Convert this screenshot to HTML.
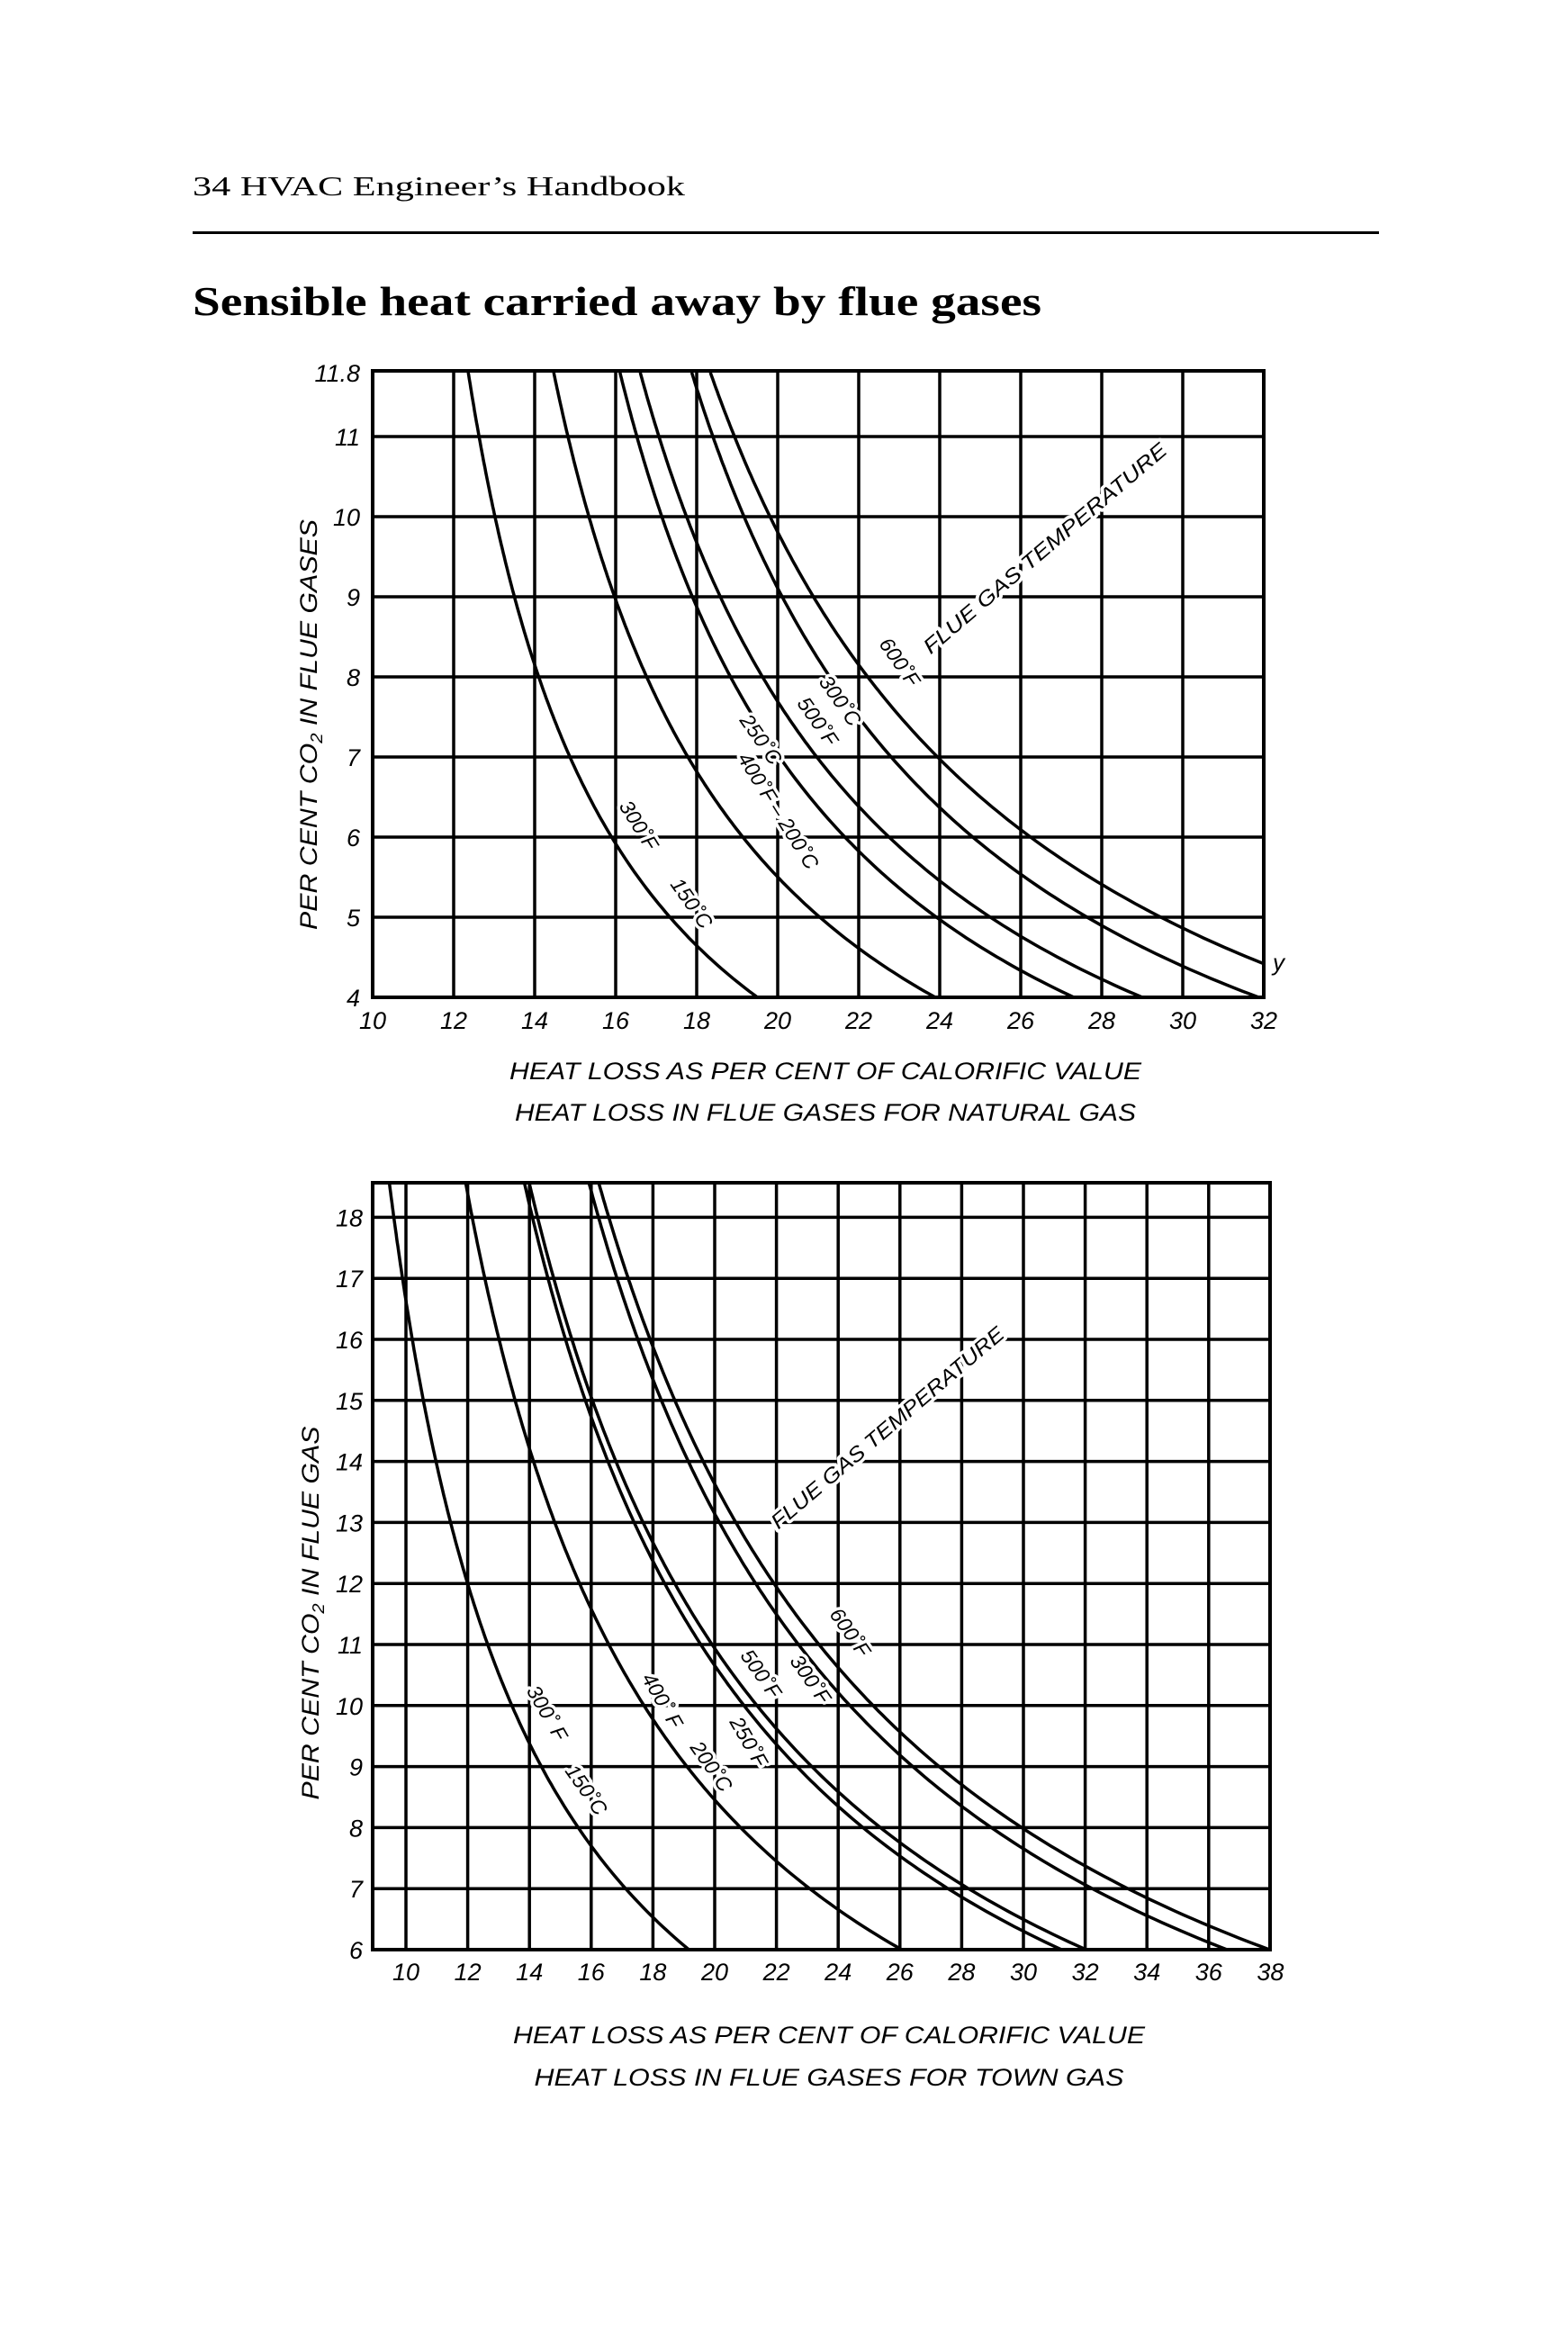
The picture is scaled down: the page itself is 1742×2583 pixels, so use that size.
<!DOCTYPE html>
<html><head><meta charset="utf-8"><style>
html,body{margin:0;padding:0;background:#fff}
svg{display:block}
.t{font-family:"Liberation Sans",sans-serif;font-style:italic;fill:#000}
.lb{font-family:"Liberation Sans",sans-serif;font-style:italic;font-size:23px;fill:#000;stroke:#fff;stroke-width:7px;paint-order:stroke;stroke-linejoin:round}
</style></head><body>
<svg id="s" width="1742" height="2583" viewBox="0 0 1742 2583" xmlns="http://www.w3.org/2000/svg">
<rect width="1742" height="2583" fill="#fff"/>
<text x="214" y="217" font-family="Liberation Serif,serif" font-size="31" textLength="547" lengthAdjust="spacingAndGlyphs">34  HVAC Engineer’s Handbook</text>
<rect x="214" y="257" width="1318" height="3" fill="#000"/>
<text x="214" y="350" font-family="Liberation Serif,serif" font-size="46" font-weight="bold" textLength="943" lengthAdjust="spacingAndGlyphs">Sensible heat carried away by flue gases</text>
<g id="c1"></g><g id="c2"></g>
<text class="t" font-size="27" x="917" y="1199" text-anchor="middle" textLength="702" lengthAdjust="spacingAndGlyphs">HEAT LOSS AS PER CENT OF CALORIFIC VALUE</text>
<text class="t" font-size="27" x="917" y="1245" text-anchor="middle" textLength="690" lengthAdjust="spacingAndGlyphs">HEAT LOSS IN FLUE GASES FOR NATURAL GAS</text>
<text class="t" font-size="27" transform="translate(352,805) rotate(-90)" text-anchor="middle" textLength="456" lengthAdjust="spacingAndGlyphs">PER CENT CO<tspan font-size="18" dy="6">2</tspan><tspan dy="-6"> IN FLUE GASES</tspan></text>
<text class="lb" font-size="25" transform="translate(1166,615) rotate(-40.4)" text-anchor="middle" textLength="347" lengthAdjust="spacingAndGlyphs">FLUE GAS TEMPERATURE</text>
<text class="lb" transform="translate(993,740) rotate(55)" text-anchor="middle">600˚F</text>
<text class="lb" transform="translate(927,783) rotate(55)" text-anchor="middle">300˚C</text>
<text class="lb" transform="translate(902,806) rotate(55)" text-anchor="middle">500˚F</text>
<text class="lb" transform="translate(839,826) rotate(55)" text-anchor="middle">250˚C</text>
<text class="lb" transform="translate(858,905) rotate(58)" text-anchor="middle">400˚F – 200˚C</text>
<text class="lb" transform="translate(703,921) rotate(58)" text-anchor="middle">300˚F</text>
<text class="lb" transform="translate(762,1008) rotate(55)" text-anchor="middle">150˚C</text>
<text class="t" font-size="26" x="1414" y="1078">y</text>
<text class="t" font-size="27" x="921" y="2270" text-anchor="middle" textLength="702" lengthAdjust="spacingAndGlyphs">HEAT LOSS AS PER CENT OF CALORIFIC VALUE</text>
<text class="t" font-size="27" x="921" y="2317" text-anchor="middle" textLength="655" lengthAdjust="spacingAndGlyphs">HEAT LOSS IN FLUE GASES FOR TOWN GAS</text>
<text class="t" font-size="27" transform="translate(354,1792) rotate(-90)" text-anchor="middle" textLength="415" lengthAdjust="spacingAndGlyphs">PER CENT CO<tspan font-size="18" dy="6">2</tspan><tspan dy="-6"> IN FLUE GAS</tspan></text>
<text class="lb" font-size="25" transform="translate(991,1592) rotate(-40.4)" text-anchor="middle" textLength="332" lengthAdjust="spacingAndGlyphs">FLUE GAS TEMPERATURE</text>
<text class="lb" transform="translate(938,1818) rotate(55)" text-anchor="middle">600˚F</text>
<text class="lb" transform="translate(894,1870) rotate(55)" text-anchor="middle">300˚F</text>
<text class="lb" transform="translate(839,1864) rotate(55)" text-anchor="middle">500˚F</text>
<text class="lb" transform="translate(825,1939) rotate(60)" text-anchor="middle">250˚F</text>
<text class="lb" transform="translate(729,1893) rotate(60)" text-anchor="middle">400˚ F</text>
<text class="lb" transform="translate(784,1967) rotate(55)" text-anchor="middle">200˚C</text>
<text class="lb" transform="translate(601,1907) rotate(60)" text-anchor="middle">300˚ F</text>
<text class="lb" transform="translate(645,1993) rotate(55)" text-anchor="middle">150˚C</text>
</svg>
<script>
var NS="http://www.w3.org/2000/svg";
function el(p,n,a,txt){var e=document.createElementNS(NS,n);for(var k in a)e.setAttribute(k,a[k]);if(txt!=null)e.textContent=txt;p.insertBefore(e,p.firstChild);return e;}
function chart(g,o){
  var X=function(v){return o.x0+(v-o.xv0)*o.sx;}, Y=function(v){return o.y0-(v-o.yv0)*o.sy;};
  var L=o.L,R=o.R,T=o.T,B=o.B;
  var cp="cp"+o.id;
  var d=el(g,"defs",{});var c=document.createElementNS(NS,"clipPath");c.setAttribute("id",cp);d.appendChild(c);
  var r=document.createElementNS(NS,"rect");r.setAttribute("x",L);r.setAttribute("y",T);r.setAttribute("width",R-L);r.setAttribute("height",B-T);c.appendChild(r);
  var s="";
  o.xg.forEach(function(v){s+="M"+X(v)+" "+T+"V"+B;});
  o.yg.forEach(function(v){s+="M"+L+" "+Y(v)+"H"+R;});
  el(g,"path",{d:s,stroke:"#000","stroke-width":3.5,fill:"none"});
  el(g,"rect",{x:L,y:T,width:R-L,height:B-T,stroke:"#000","stroke-width":4,fill:"none"});
  o.curves.forEach(function(ab){
    var p="";for(var i=0;i<=200;i++){var yv=o.ylo+(o.yhi-o.ylo)*i/200;var xv=ab[0]+ab[1]/yv;p+=(i?"L":"M")+X(xv).toFixed(1)+" "+Y(yv).toFixed(1);}
    var e=document.createElementNS(NS,"path");e.setAttribute("d",p);e.setAttribute("stroke","#000");e.setAttribute("stroke-width",3.5);e.setAttribute("fill","none");e.setAttribute("clip-path","url(#"+cp+")");g.appendChild(e);
  });
  o.xl.forEach(function(v){var t=document.createElementNS(NS,"text");t.setAttribute("class","t");t.setAttribute("font-size",27);t.setAttribute("x",X(v));t.setAttribute("y",o.xly);t.setAttribute("text-anchor","middle");t.textContent=v;g.appendChild(t);});
  o.yl.forEach(function(v){var t=document.createElementNS(NS,"text");t.setAttribute("class","t");t.setAttribute("font-size",27);t.setAttribute("x",o.ylx);t.setAttribute("y",Y(v)+10);t.setAttribute("text-anchor","end");t.textContent=v;g.appendChild(t);});
}
var xs1=[],xg1=[];for(var v=10;v<=32;v+=2){xs1.push(v);if(v>10&&v<32)xg1.push(v);}
chart(document.getElementById("c1"),{id:1,x0:414,xv0:10,sx:45,y0:1108,yv0:4,sy:89,L:414,R:1404,T:412,B:1108,
 xg:xg1,yg:[5,6,7,8,9,10,11],ylo:4,yhi:11.8,
 curves:[[8.7,43.2],[9.64,57.0],[10.36,67.8],[10.25,75],[10.7,84.7],[10.16,96.5]],
 xl:xs1,xly:1143,yl:["4","5","6","7","8","9","10","11","11.8"].map(Number),ylx:400});
var xs2=[],xg2=[];for(var v=10;v<=38;v+=2){xs2.push(v);if(v<38)xg2.push(v);}
chart(document.getElementById("c2"),{id:2,x0:451,xv0:10,sx:34.3,y0:2166,yv0:6,sy:67.8,L:414,R:1411,T:1314,B:2166,
 xg:xg2,yg:[7,8,9,10,11,12,13,14,15,16,17,18],ylo:6,yhi:18.6,
 curves:[[4.83,86],[5.19,125.2],[5.53,154.2],[5.38,159.9],[6.06,183.2],[5.87,192.6]],
 xl:xs2,xly:2200,yl:[6,7,8,9,10,11,12,13,14,15,16,17,18],ylx:403});
</script>
</body></html>
